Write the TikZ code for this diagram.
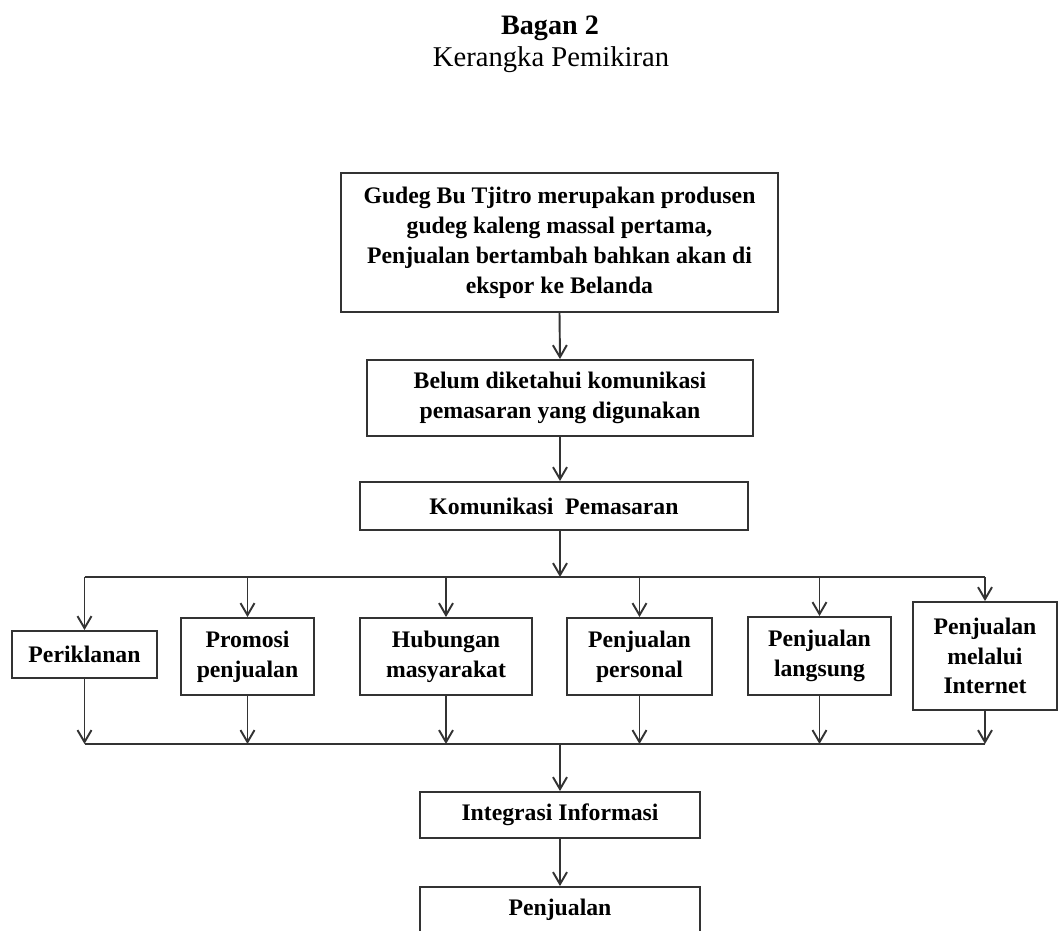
\documentclass[tikz,border=0pt]{standalone}
\usepackage{fontspec}
\setmainfont{Liberation Serif}
\usepackage{xcolor}
\usetikzlibrary{arrows.meta}

\begin{document}
\begin{tikzpicture}[x=0.02cm, y=-0.02cm,
    box/.style={draw=black!80, line width=1.1pt, align=center, inner sep=2pt,
      font=\fontsize{13.5}{17}\selectfont\bfseries},
    arr/.style={draw=black!80, line width=1.1pt, -{Straight Barb[length=2.4mm,width=2.8mm]}},
    bus/.style={draw=black!80, line width=1.1pt}]
  % Keep the page the size of the reference
  \useasboundingbox (0,0) rectangle (1058,930);

  % Title
  \node[font=\fontsize{16}{19}\selectfont\bfseries] (title) at (550,28) {Bagan 2};
  \node[font=\fontsize{16.3}{19}\selectfont] (subtitle) at (551,60) {Kerangka Pemikiran};

  % Upper chain of boxes
  \node[box, minimum width=8.74cm, minimum height=2.78cm] (gudeg) at (559.5,242.5)
    {Gudeg Bu Tjitro merupakan produsen\\ gudeg kaleng massal pertama,\\
     Penjualan bertambah bahkan akan di\\ ekspor ke Belanda};
  \node[box, minimum width=7.72cm, minimum height=1.52cm] (belum) at (560,398)
    {Belum diketahui komunikasi\\ pemasaran yang digunakan};
  \node[box, minimum width=7.76cm, minimum height=0.96cm] (komun) at (554,506)
    {Komunikasi\ \ Pemasaran};

  % Row of tools
  \node[box, minimum width=2.90cm, minimum height=0.94cm] (iklan) at (84.5,654.5) {Periklanan};
  \node[box, minimum width=2.66cm, minimum height=1.54cm] (promosi) at (247.5,656.5) {Promosi\\ penjualan};
  \node[box, minimum width=3.44cm, minimum height=1.54cm] (humas) at (446,656.5) {Hubungan\\ masyarakat};
  \node[box, minimum width=2.90cm, minimum height=1.54cm] (personal) at (639.5,656.5) {Penjualan\\ personal};
  \node[box, minimum width=2.86cm, minimum height=1.56cm] (langsung) at (819.5,656) {Penjualan\\ langsung};
  \node[box, minimum width=2.88cm, minimum height=2.16cm] (internet) at (985,656) {Penjualan\\ melalui\\ Internet};

  % Lower chain
  \node[box, minimum width=5.6cm, minimum height=0.92cm] (integrasi) at (560,815) {Integrasi Informasi};
  \node[box, minimum width=5.6cm, minimum height=0.92cm] (jual) at (560,910) {Penjualan};

  \coordinate (topbus) at (560,577);
  \coordinate (lowbus) at (560,744);

  % Arrows down the middle
  \draw[arr] (gudeg.south) -- (belum.north);
  \draw[arr] (belum.south) -- (belum.south |- komun.north);
  \draw[arr] (belum.south |- komun.south) -- (topbus);

  % Upper bus and its drops
  \draw[bus] (iklan.north |- topbus) -- (internet.north |- topbus);
  \foreach \b in {iklan,promosi,humas,personal,langsung,internet}
    \draw[arr] (\b.north |- topbus) -- (\b.north);

  % Lower bus and what runs into it
  \draw[bus] (iklan.south |- lowbus) -- (internet.south |- lowbus);
  \foreach \b in {iklan,promosi,humas,personal,langsung,internet}
    \draw[arr] (\b.south) -- (\b.south |- lowbus);

  \draw[arr] (lowbus) -- (integrasi.north);
  \draw[arr] (integrasi.south) -- (jual.north);
\end{tikzpicture}
\end{document}
